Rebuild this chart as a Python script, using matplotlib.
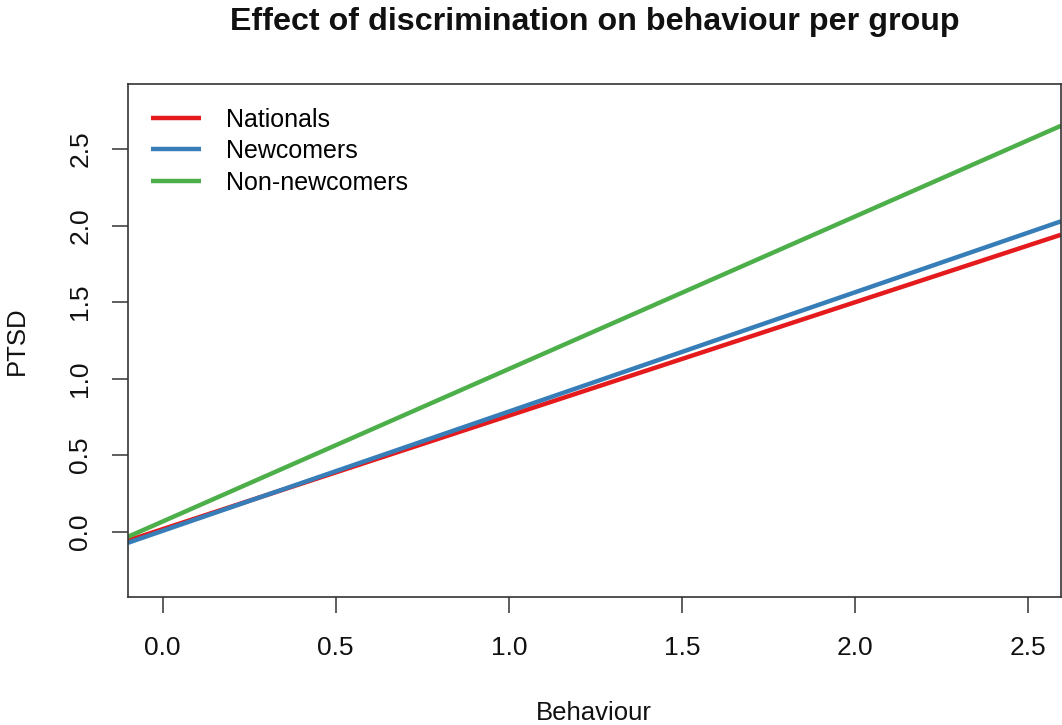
import matplotlib
matplotlib.use("Agg")
import matplotlib.pyplot as plt

# Fitted regression lines: PTSD = intercept + slope * Behaviour
groups = ["Nationals", "Newcomers", "Non-newcomers"]
intercepts = [0.017, 0.006, 0.067]
slopes = [0.741, 0.779, 0.996]
colors = ["#E41A1C", "#377EB8", "#4DAF4A"]

x_ticks = [0.0, 0.5, 1.0, 1.5, 2.0, 2.5]
y_ticks = [0.0, 0.5, 1.0, 1.5, 2.0, 2.5]

plt.rcParams["font.family"] = ["Liberation Sans", "DejaVu Sans"]

fig = plt.figure(figsize=(10.62, 7.25), dpi=100)
ax = fig.add_axes([0.1202, 0.177, 0.8788, 0.707])

for name, b0, b1, c in zip(groups, intercepts, slopes, colors):
    ax.axline((0, b0), slope=b1, color=c, lw=3.2, label=name, solid_capstyle="butt")

ax.set_xlim(-0.101, 2.595)
ax.set_ylim(-0.424, 2.924)

ax.set_xticks(x_ticks)
ax.set_xticklabels([f"{v:.1f}" for v in x_ticks])
ax.set_yticks(y_ticks)
ax.set_yticklabels([f"{v:.1f}" for v in y_ticks], rotation=90, va="center")

ax.tick_params(axis="both", length=11.5, width=1.1, color="#333333",
               labelsize=19, labelcolor="#111111")
ax.tick_params(axis="x", pad=17)
ax.tick_params(axis="y", pad=14)
for s in ax.spines.values():
    s.set_linewidth(1.2)
    s.set_color("#333333")

ax.set_xlabel("Behaviour", fontsize=18.5, labelpad=29, color="#111111")
ax.set_ylabel("PTSD", fontsize=18.5, labelpad=28, color="#111111")
fig.suptitle("Effect of discrimination on behaviour per group",
             fontsize=23.2, fontweight="bold", y=0.99, x=0.56, color="#111111")

leg = ax.legend(loc="upper left", frameon=False, fontsize=18,
                handlelength=2.0, handletextpad=1.0, labelspacing=0.3,
                borderaxespad=0.5, bbox_to_anchor=(0.001, 0.998))

fig.savefig("out.png", dpi=100)
